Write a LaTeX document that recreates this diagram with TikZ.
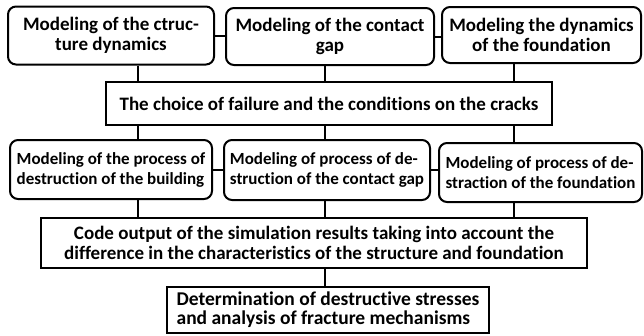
\documentclass[tikz,border=0pt]{standalone}
\usepackage{fontspec}
\setmainfont{Carlito}[Ligatures=NoCommon]
\usepackage{tikz}

\begin{document}
\begin{tikzpicture}[x=1pt, y=-1pt,
				rbox/.style={draw, line width=2pt, rounded corners=8pt, align=center, inner sep=1pt, font=\bfseries\fontsize{19}{20}\selectfont},
				sbox/.style={draw, line width=2pt, align=center, inner sep=1pt, font=\bfseries\fontsize{19}{20}\selectfont},
				link/.style={line width=2pt}]
				\useasboundingbox (0,0) rectangle (644,335);
				% modeling
				\node[rbox, minimum width=206pt, minimum height=58pt] (str) at (111,35.5) {Modeling of the ctruc-\\ture dynamics};
				\node[rbox, minimum width=208pt, minimum height=57pt] (gap) at (330,36.5) {Modeling of the contact\\gap};
				\node[rbox, minimum width=199pt, minimum height=56pt] (fnd) at (541.5,35) {Modeling the dynamics\\of the foundation};
				\node[sbox, minimum width=446pt, minimum height=43pt] (choice) at (329,103.5) {The choice of failure and the conditions on the cracks};
				% destruction
				\node[rbox, minimum width=202pt, minimum height=59pt, align=left, font=\bfseries\fontsize{17}{20}\selectfont] (dstr) at (111,169.5) {Modeling of the process of\\destruction of the building};
				\node[rbox, minimum width=206pt, minimum height=60pt, align=left, font=\bfseries\fontsize{17}{20}\selectfont] (dgap) at (327,170) {Modeling of process of de-\\struction of the contact gap};
				\node[rbox, minimum width=203pt, minimum height=59pt, align=left, font=\bfseries\fontsize{17}{20}\selectfont] (dfnd) at (540.5,172.5) {Modeling of process of de-\\straction of the foundation};
				\node[sbox, minimum width=546pt, minimum height=50pt] (code) at (314,243) {Code output of the simulation results taking into account the\\difference in the characteristics of the structure and foundation};
				\node[sbox, minimum width=322pt, minimum height=46pt, align=left, font=\bfseries\fontsize{19.5}{19}\selectfont] (res) at (328,310) {Determination of destructive stresses\\and analysis of fracture mechanisms};
				% links
				\coordinate (l) at (138,0);
				\coordinate (m) at (325,0);
				\coordinate (r) at (514,0);
				\draw[link] (str.east) -- (gap.west |- str.east);
				\draw[link] (gap.east) -- (fnd.west |- gap.east);
				\draw[link] (dstr.east) -- (dgap.west |- dstr.east);
				\draw[link] (dgap.east) -- (dfnd.west |- dgap.east);
				\foreach \a/\b/\c in {str/choice/l, gap/choice/m, fnd/choice/r, choice/dstr/l, choice/dgap/m, choice/dfnd/r, dstr/code/l, dgap/code/m, dfnd/code/r, code/res/m}
					\draw[link] (\a.south -| \c) -- (\b.north -| \c);
			\end{tikzpicture}
\end{document}
